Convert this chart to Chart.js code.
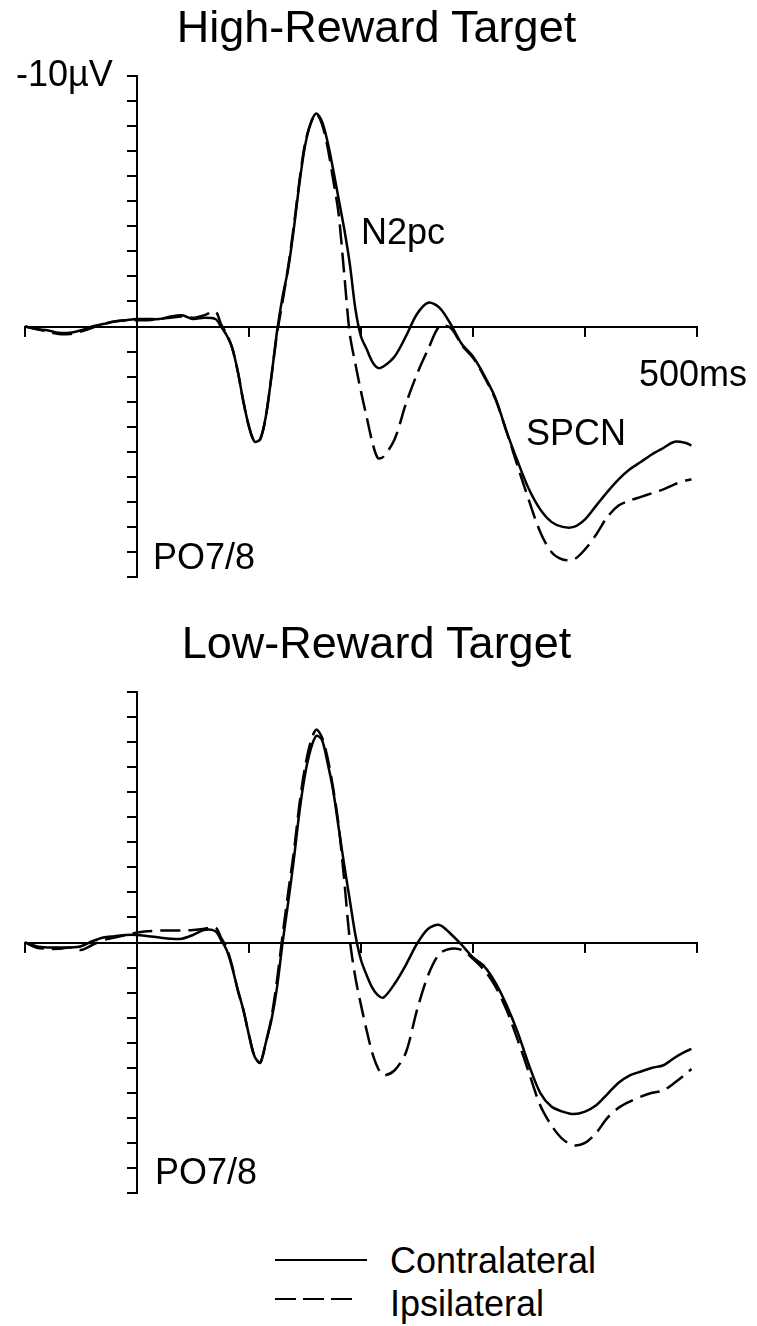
<!DOCTYPE html>
<html>
<head>
<meta charset="utf-8">
<script src="https://cdn.jsdelivr.net/npm/chart.js@4.4.0/dist/chart.umd.min.js"></script>
<style>
  body { margin: 0; background: #fff; }
  #page { position: relative; width: 757px; height: 1326px; font-family: "Liberation Sans", Arial, sans-serif; color: #000; }
  canvas { position: absolute; left: 0; }
  .lbl { position: absolute; white-space: nowrap; line-height: 1; font-size: 36px; }
  .title { position: absolute; left: 0; width: 753px; text-align: center; line-height: 1; font-size: 45px; }
</style>
</head>
<body>
<div id="page">
  <canvas id="highChart" width="757" height="600" style="top:0;width:757px;height:600px"></canvas>
  <canvas id="lowChart" width="757" height="620" style="top:600px;width:757px;height:620px"></canvas>

  <div class="title" style="top:4px">High-Reward Target</div>
  <div class="lbl" style="left:16px;top:56px">-10µV</div>
  <div class="lbl" style="left:361px;top:214px">N2pc</div>
  <div class="lbl" style="left:639px;top:356px">500ms</div>
  <div class="lbl" style="left:526px;top:415px">SPCN</div>
  <div class="lbl" style="left:153px;top:539px">PO7/8</div>

  <div class="title" style="top:620px">Low-Reward Target</div>
  <div class="lbl" style="left:155px;top:1154px">PO7/8</div>

  <div style="position:absolute;left:275px;top:1259px;width:92px;height:2px;background:#000"></div>
  <div class="lbl" style="left:390px;top:1243px">Contralateral</div>
  <div style="position:absolute;left:275px;top:1298px;width:77px;height:2px;background:repeating-linear-gradient(90deg,#000 0 21px,transparent 21px 28px)"></div>
  <div class="lbl" style="left:390px;top:1286px">Ipsilateral</div>
</div>

<script>
// time points (ms)
const times = [-100, -90, -80, -70, -60, -50, -40, -30, -20, -10, 0, 10, 20, 30, 40, 50, 60,
  70, 75, 80, 85, 90, 95, 100, 105, 110, 115, 120, 125, 130, 135, 140, 145, 150, 155, 160, 165,
  170, 175, 180, 185, 190, 195, 200, 205, 210, 215, 220,
  230, 240, 250, 260, 270, 280, 290, 300, 310, 320, 330, 340, 350, 360, 370, 380, 390, 400,
  410, 420, 430, 440, 450, 460, 470, 480, 490, 495];

// amplitudes in µV (negative up)
const highContra = [0, 0.1, 0.15, 0.25, 0.25, 0.15, 0, -0.1, -0.2, -0.25, -0.3, -0.3, -0.3, -0.4, -0.45, -0.3, -0.35,
  -0.3, 0, 0.35, 0.85, 1.8, 3.0, 4.0, 4.6, 4.5, 3.6, 2.0, 0.2, -1.2, -2.3, -3.9, -5.7, -7.2, -8.1, -8.5, -8.2,
  -7.4, -6.3, -5.1, -3.9, -2.5, -0.7, 0.4, 0.9, 1.4, 1.65, 1.6,
  1.2, 0.4, -0.5, -0.95, -0.75, -0.1, 0.7, 1.2, 1.95, 2.85, 4.2, 5.4, 6.5, 7.3, 7.8, 8.0, 8.0, 7.7,
  7.15, 6.6, 6.1, 5.7, 5.4, 5.1, 4.85, 4.6, 4.65, 4.75];
const highIpsi = [0, 0.1, 0.2, 0.3, 0.3, 0.2, 0.05, -0.1, -0.2, -0.25, -0.25, -0.25, -0.3, -0.35, -0.4, -0.35, -0.45,
  -0.6, -0.1, 0.3, 0.85, 1.8, 3.0, 4.0, 4.6, 4.5, 3.6, 2.0, 0.3, -1.0, -2.4, -4.0, -5.8, -7.3, -8.1, -8.5, -8.1,
  -7.2, -5.9, -4.5, -2.1, 0.3, 1.5, 2.6, 3.6, 4.6, 5.25, 5.2,
  4.5, 3.1, 1.9, 0.9, 0.0, 0.05, 0.75, 1.25, 2.0, 2.9, 4.2, 5.6, 6.95, 8.2, 9.0, 9.3, 9.3, 8.9,
  8.3, 7.6, 7.15, 6.95, 6.8, 6.65, 6.5, 6.3, 6.15, 6.1];
const lowContra = [0, 0.15, 0.2, 0.2, 0.2, 0.15, -0.05, -0.2, -0.25, -0.3, -0.3, -0.25, -0.2, -0.15, -0.15, -0.3, -0.5,
  -0.45, -0.1, 0.3, 1.0, 1.9, 2.7, 3.7, 4.55, 4.8, 4.0, 3.1, 1.8, 0.0, -1.6, -3.3, -5.2, -6.7, -7.7, -8.25, -8.1,
  -7.2, -6.1, -4.6, -3.1, -1.7, -0.3, 0.7, 1.3, 1.8, 2.1, 2.2,
  1.65, 0.9, 0.05, -0.55, -0.7, -0.35, 0.1, 0.6, 0.95, 1.6, 2.5, 3.6, 4.9, 6.0, 6.55, 6.75, 6.85, 6.75,
  6.5, 6.05, 5.6, 5.3, 5.15, 5.0, 4.9, 4.6, 4.35, 4.25];
const lowIpsi = [0, 0.2, 0.25, 0.25, 0.2, 0.3, 0.1, -0.1, -0.2, -0.3, -0.4, -0.45, -0.48, -0.48, -0.48, -0.5, -0.55,
  -0.6, -0.2, 0.2, 0.95, 1.9, 2.7, 3.7, 4.55, 4.8, 4.0, 3.0, 1.5, -0.3, -2.0, -3.6, -5.5, -7.0, -8.0, -8.5, -8.2,
  -7.4, -6.2, -4.7, -2.5, -0.1, 1.4, 2.5, 3.5, 4.4, 5.0, 5.3,
  5.1, 4.4, 2.7, 1.3, 0.45, 0.25, 0.3, 0.65, 1.1, 1.75, 2.7, 3.9, 5.2, 6.5, 7.3, 7.85, 8.1, 8.0,
  7.6, 7.0, 6.6, 6.35, 6.15, 6.0, 5.9, 5.6, 5.25, 5.05];

const toPoints = vals => times.map((t, i) => ({ x: t, y: vals[i] }));

const axisGrid = { drawOnChartArea: false, tickLength: 9, color: '#000', lineWidth: 2 };
const axisBorder = { color: '#000', width: 2 };

function makePanel(id, contra, ipsi, pad) {
  return new Chart(document.getElementById(id), {
    type: 'line',
    data: {
      datasets: [
        { label: 'Contralateral', data: toPoints(contra), borderColor: '#000', borderWidth: 2.5,
          pointRadius: 0, tension: 0.3, fill: false },
        { label: 'Ipsilateral', data: toPoints(ipsi), borderColor: '#000', borderWidth: 2.5,
          borderDash: [20, 8], pointRadius: 0, tension: 0.3, fill: false }
      ]
    },
    options: {
      responsive: false,
      animation: false,
      events: [],
      layout: { padding: pad },
      plugins: { legend: { display: false }, tooltip: { enabled: false } },
      scales: {
        x: { type: 'linear', min: -100, max: 500, position: { y: 0 },
             ticks: { stepSize: 100, display: false }, grid: axisGrid, border: axisBorder },
        y: { type: 'linear', min: -10, max: 10, reverse: true, position: { x: 0 },
             ticks: { stepSize: 1, display: false }, grid: axisGrid, border: axisBorder }
      }
    }
  });
}

makePanel('highChart', highContra, highIpsi, { left: 25, right: 60, top: 76, bottom: 23 });
makePanel('lowChart', lowContra, lowIpsi, { left: 25, right: 60, top: 92, bottom: 27 });
</script>
</body>
</html>
